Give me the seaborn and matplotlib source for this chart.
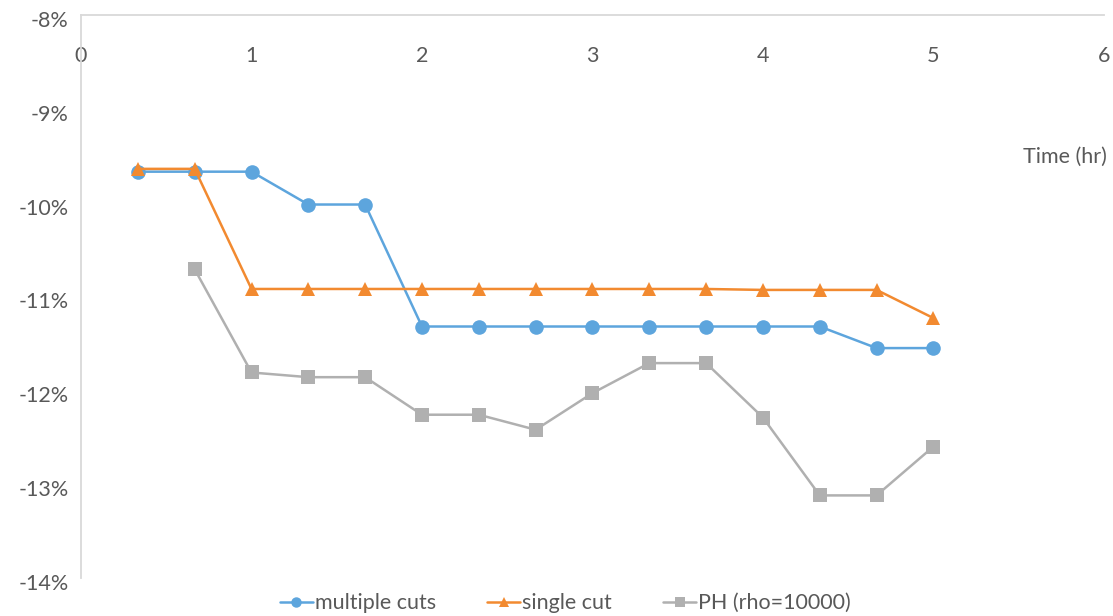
import numpy as np
import pandas as pd
import matplotlib
matplotlib.use("Agg")
import matplotlib.pyplot as plt
import matplotlib.transforms as mtransforms
from matplotlib.ticker import FuncFormatter
import seaborn as sns

# Elapsed time (hours) and objective gap (%) for each method
time_multi = [1/3, 2/3, 1, 4/3, 5/3, 2, 7/3, 8/3, 3, 10/3, 11/3, 4, 13/3, 14/3, 5]
multiple_cuts = [-9.67, -9.67, -9.67, -10.02, -10.02, -11.32, -11.32, -11.32,
                 -11.32, -11.32, -11.32, -11.32, -11.32, -11.55, -11.55]

time_single = [1/3, 2/3, 1, 4/3, 5/3, 2, 7/3, 8/3, 3, 10/3, 11/3, 4, 13/3, 14/3, 5]
single_cut = [-9.64, -9.64, -10.92, -10.92, -10.92, -10.92, -10.92, -10.92,
              -10.92, -10.92, -10.92, -10.93, -10.93, -10.93, -11.23]

time_ph = [2/3, 1, 4/3, 5/3, 2, 7/3, 8/3, 3, 10/3, 11/3, 4, 13/3, 14/3, 5]
ph_rho = [-10.71, -11.81, -11.86, -11.86, -12.26, -12.26, -12.42, -12.03,
          -11.71, -11.71, -12.29, -13.12, -13.12, -12.60]

series_names = ["multiple cuts", "single cut", "PH (rho=10000)"]
x_ticks = [0, 1, 2, 3, 4, 5, 6]
y_ticks = [-14, -13, -12, -11, -10, -9, -8]

df = pd.concat([
    pd.DataFrame({"time": time_multi, "gap": multiple_cuts, "series": series_names[0]}),
    pd.DataFrame({"time": time_single, "gap": single_cut, "series": series_names[1]}),
    pd.DataFrame({"time": time_ph, "gap": ph_rho, "series": series_names[2]}),
], ignore_index=True)

sns.set_theme(style="white")
plt.rcParams["font.family"] = ["Lato", "DejaVu Sans"]
text_color = "#595959"
axis_color = "#d9d9d9"
fs = 15.5

fig = plt.figure(figsize=(11.13, 6.16), dpi=100)
ax = fig.add_axes([0.0728, 0.0617, 0.919, 0.914])

palette = {series_names[0]: "#5DA5DD", series_names[1]: "#F28A30", series_names[2]: "#B0B0B0"}
markers = {series_names[0]: "o", series_names[1]: "^", series_names[2]: "s"}
sns.lineplot(data=df, x="time", y="gap", hue="series", style="series",
             hue_order=series_names, style_order=series_names,
             palette=palette, markers=markers, dashes=False,
             linewidth=1.8, markersize=10, markeredgewidth=0, ax=ax, sort=False)

# per-method marker sizes
for line, size in zip(ax.lines[:3], [10.5, 10.5, 9.5]):
    line.set_markersize(size)

ax.set_xlim(0, 6)
ax.set_ylim(-14, -8)
ax.set_xticks(x_ticks)
ax.set_yticks(y_ticks)
ax.yaxis.set_major_formatter(FuncFormatter(lambda v, p: f"{v:.0f}%"))

# Horizontal axis sits at the top, labels drawn just below it
ax.xaxis.set_ticks_position("top")
ax.tick_params(axis="x", top=False, bottom=False, labeltop=True, labelbottom=False,
               length=0, pad=-37, labelsize=fs, labelcolor=text_color)
ax.tick_params(axis="y", left=False, length=0, pad=9, labelsize=fs, labelcolor=text_color)

# nudge the percentage labels slightly below their gridline positions
shift = mtransforms.ScaledTranslation(0, -4 / 100, fig.dpi_scale_trans)
for tick in ax.yaxis.get_major_ticks():
    tick.label1.set_transform(tick.label1.get_transform() + shift)

for side in ["right", "bottom"]:
    ax.spines[side].set_visible(False)
for side in ["left", "top"]:
    ax.spines[side].set_color(axis_color)
    ax.spines[side].set_linewidth(1.3)

ax.set_ylabel("")
ax.set_xlabel("Time (hr)", fontsize=fs, color=text_color, ha="right", va="center")
ax.xaxis.set_label_position("bottom")
ax.xaxis.set_label_coords(1.003, 0.765)

handles, labels = ax.get_legend_handles_labels()
ax.get_legend().remove()
fig.legend(handles, labels, loc="center", bbox_to_anchor=(0.508, 0.021), ncol=3,
           frameon=False, fontsize=fs, labelcolor=text_color, handlelength=1.5,
           handletextpad=0.1, columnspacing=2.4, markerscale=0.75)

fig.savefig("out.png", dpi=100)
